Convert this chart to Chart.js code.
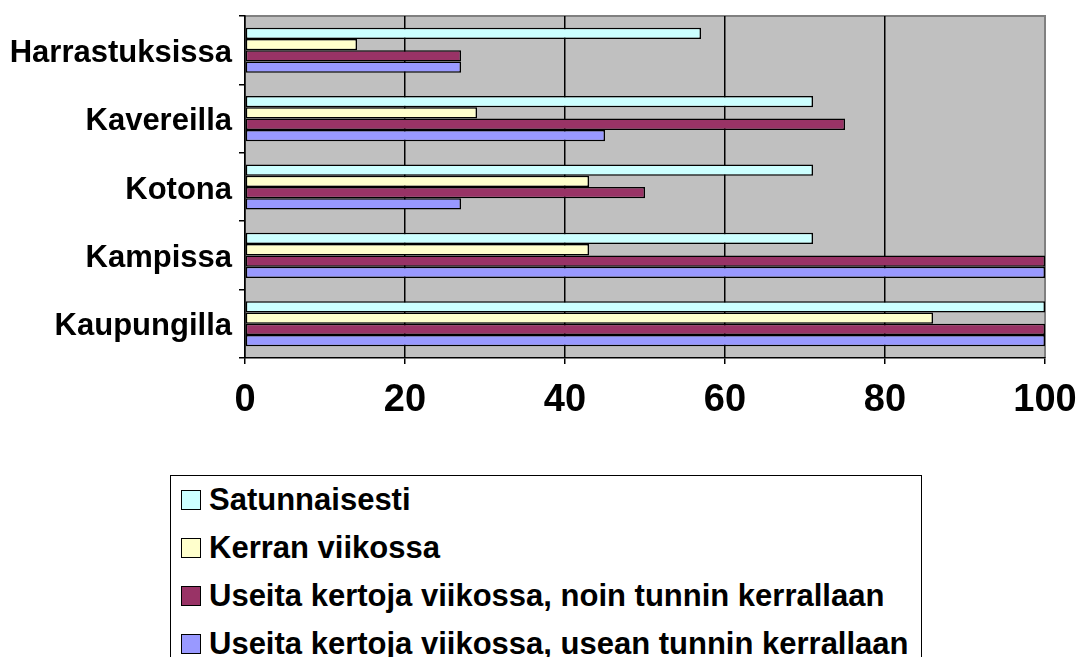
<!DOCTYPE html>
<html>
<head>
<meta charset="utf-8">
<script src="https://cdn.jsdelivr.net/npm/chart.js@4/dist/chart.umd.min.js"></script>
<style>
    body { margin: 0; background: #fff; font-family: "Liberation Sans", Arial, sans-serif; }
    #wrap { position: relative; width: 1080px; height: 657px; overflow: hidden; }
    #legend {
        position: absolute; left: 170px; top: 475px; width: 752px; height: 200px;
        box-sizing: border-box; border: 1.5px solid #000; background: #fff;
    }
    #legend ul { list-style: none; margin: 0; padding: 0; }
    #legend li {
        display: flex; align-items: center; height: 48px; padding-left: 10px;
        font-weight: bold; font-size: 31px; color: #000; white-space: nowrap;
    }
    #legend .box {
        width: 18px; height: 18px; border: 1.5px solid #000; margin-right: 8px; flex: none;
    }
</style>
</head>
<body>
<div id="wrap">
    <canvas id="myChart" width="1080" height="657"></canvas>
    <div id="legend"></div>
</div>
<script>
const categories = ['Harrastuksissa', 'Kavereilla', 'Kotona', 'Kampissa', 'Kaupungilla'];
const seriesNames = [
    'Satunnaisesti',
    'Kerran viikossa',
    'Useita kertoja viikossa, noin tunnin kerrallaan',
    'Useita kertoja viikossa, usean tunnin kerrallaan'
];
const satunnaisesti = [57, 71, 71, 71, 100];
const kerranViikossa = [14, 29, 43, 43, 86];
const noinTunnin = [27, 75, 50, 100, 100];
const useanTunnin = [27, 45, 27, 100, 100];
const xTicks = [0, 20, 40, 60, 80, 100];
const colors = ['#CCFFFF', '#FFFFCC', '#993366', '#9999FF'];

const seriesValues = [satunnaisesti, kerranViikossa, noinTunnin, useanTunnin];

// gray plot area with gray top/right frame
const plotBackground = {
    id: 'plotBackground',
    beforeDraw(chart) {
        const { ctx, chartArea: a } = chart;
        ctx.save();
        ctx.fillStyle = '#C0C0C0';
        ctx.fillRect(a.left, a.top, a.right - a.left, a.bottom - a.top);
        ctx.strokeStyle = '#808080';
        ctx.lineWidth = 2;
        ctx.beginPath();
        ctx.moveTo(a.left, a.top);
        ctx.lineTo(a.right, a.top);
        ctx.lineTo(a.right, a.bottom);
        ctx.stroke();
        ctx.restore();
    }
};

// vertical legend built from the datasets
const htmlLegend = {
    id: 'htmlLegend',
    afterUpdate(chart) {
        const el = document.getElementById('legend');
        el.innerHTML = '';
        const ul = document.createElement('ul');
        chart.data.datasets.forEach(ds => {
            const li = document.createElement('li');
            const box = document.createElement('span');
            box.className = 'box';
            box.style.background = ds.backgroundColor;
            li.appendChild(box);
            li.appendChild(document.createTextNode(ds.label));
            ul.appendChild(li);
        });
        el.appendChild(ul);
    }
};

const ctx = document.getElementById('myChart');

new Chart(ctx, {
    type: 'bar',
    data: {
        labels: categories,
        datasets: seriesNames.map((name, i) => ({
            label: name,
            data: seriesValues[i],
            backgroundColor: colors[i],
            borderColor: '#000',
            borderWidth: 1.5,
            borderSkipped: false,
            barPercentage: 1,
            categoryPercentage: 0.66
        }))
    },
    options: {
        indexAxis: 'y',
        responsive: false,
        animation: false,
        devicePixelRatio: 1,
        layout: {
            padding: { left: 0, top: 16, right: 35, bottom: 239 }
        },
        plugins: {
            legend: { display: false },
            tooltip: { enabled: false }
        },
        scales: {
            x: {
                min: 0,
                max: 100,
                afterBuildTicks: function (scale) {
                    scale.ticks = xTicks.map(v => ({ value: v }));
                },
                afterFit: function (scale) {
                    scale.height = 60;
                    scale.paddingLeft = 0;
                    scale.paddingRight = 0;
                },
                border: { color: '#000', width: 1.5 },
                grid: {
                    color: c => (c.tick && c.tick.value === 100) ? '#808080' : '#000',
                    lineWidth: 1.5,
                    tickLength: 6,
                    tickColor: '#000',
                    tickWidth: 1.5
                },
                ticks: {
                    color: '#000',
                    padding: 14,
                    maxRotation: 0,
                    font: { family: '"Liberation Sans", Arial, sans-serif', size: 38, weight: 'bold' }
                }
            },
            y: {
                afterFit: function (scale) {
                    scale.width = 245;
                    scale.paddingTop = 0;
                    scale.paddingBottom = 0;
                },
                border: { color: '#000', width: 1.5 },
                grid: {
                    drawOnChartArea: false,
                    color: '#000',
                    lineWidth: 1.5,
                    tickLength: 6
                },
                ticks: {
                    color: '#000',
                    padding: 7,
                    labelOffset: 3,
                    font: { family: '"Liberation Sans", Arial, sans-serif', size: 31, weight: 'bold' }
                }
            }
        }
    },
    plugins: [plotBackground, htmlLegend]
});
</script>
</body>
</html>
